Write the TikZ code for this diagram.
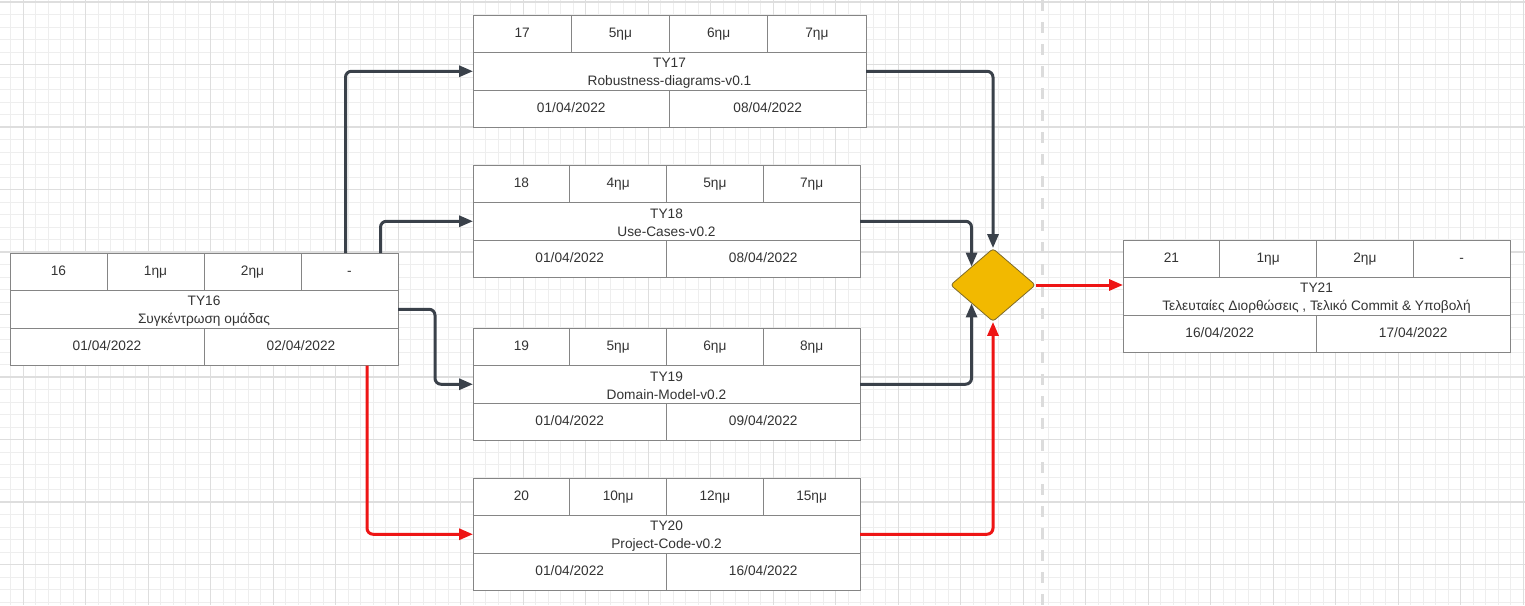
\documentclass[tikz,border=0pt]{standalone}
\usepackage{fontspec}
\setmainfont{Liberation Sans}
\usetikzlibrary{shapes.geometric,arrows.meta,calc}
\definecolor{minorg}{HTML}{EEEEEE}
\definecolor{majorg}{HTML}{DEDEDE}
\definecolor{boxgray}{HTML}{858585}
\definecolor{txt}{HTML}{333333}
\definecolor{darkline}{HTML}{3A414A}
\definecolor{redline}{HTML}{EE1515}
\definecolor{gold}{HTML}{F2B900}
\definecolor{goldedge}{HTML}{7D6A2A}
\definecolor{sepgray}{HTML}{DCDCDC}
\newcommand\fsz{\fontsize{13.7}{17.4}\selectfont}
\tikzset{
  cell/.style={draw=boxgray, line width=1pt, fill=white, minimum height=37.5pt,
    inner sep=0pt, outer sep=0pt, text=txt, font=\fsz, text height=10pt, text depth=3pt},
  midcell/.style={draw=boxgray, line width=1pt, fill=white, minimum height=37.5pt,
    inner sep=0pt, outer sep=0pt, text=txt, font=\fsz, align=center},
  conn/.style={line width=3pt, rounded corners=6pt, -{Triangle[length=14pt,width=11pt]}},
  darr/.style={conn, draw=darkline},
  rarr/.style={conn, draw=redline},
  minorline/.style={draw=minorg, line width=1pt},
  majorline/.style={draw=majorg, line width=1.2pt},
  gate/.style={diamond, draw=goldedge, line width=0.8pt, fill=gold, minimum width=85pt,
    minimum height=73pt, inner sep=0pt, rounded corners=3pt}
}
\newcommand\taskhead[8]{%
  \node[cell,minimum width=#4/4,anchor=north west] (#1-a) at (#2,#3) {#5};
  \node[cell,minimum width=#4/4,anchor=north west] (#1-b) at (#1-a.north east) {#6};
  \node[cell,minimum width=#4/4,anchor=north west] (#1-c) at (#1-b.north east) {#7};
  \node[cell,minimum width=#4/4,anchor=north west] (#1-d) at (#1-c.north east) {#8};
}
\newcommand\tasktail[6]{%
  \node[midcell,minimum width=#2,anchor=north west] (#1) at (#1-a.south west) {\rule{0pt}{13pt}#3\\#4};
  \node[cell,minimum width=#2/2,anchor=north west] (#1-s) at (#1.south west) {#5};
  \node[cell,minimum width=#2/2,anchor=north west] (#1-e) at (#1-s.north east) {#6};
}
\begin{document}
\begin{tikzpicture}[x=1pt,y=-1pt]
\useasboundingbox (0,0) rectangle (1525,605);
\fill[white] (0,0) rectangle (1525,605);
% grid
\foreach \i in {0,...,122} \draw[minorline] ({-1.7+12.5*\i},0) -- ++(0,605);
\foreach \j in {0,...,48} \draw[minorline] (0,{2+12.5*\j}) -- ++(1525,0);
\foreach \i in {0,...,24} \draw[majorline] ({23.3+62.5*\i},0) -- ++(0,605);
\foreach \j in {0,...,9} \draw[majorline] (0,{2+62.5*\j}) -- ++(1525,0);
% separator
\draw[sepgray, line width=3pt, dash pattern=on 11pt off 11pt] (1042.5,0) -- (1042.5,605);
% tasks
\taskhead{t16}{10}{253}{388}{16}{1ημ}{2ημ}{-}
\tasktail{t16}{388}{TY16}{Συγκέντρωση ομάδας}{01/04/2022}{02/04/2022}
\taskhead{t17}{473}{15}{393}{17}{5ημ}{6ημ}{7ημ}
\tasktail{t17}{393}{TY17}{Robustness-diagrams-v0.1}{01/04/2022}{08/04/2022}
\taskhead{t18}{473}{165}{387}{18}{4ημ}{5ημ}{7ημ}
\tasktail{t18}{387}{TY18}{Use-Cases-v0.2}{01/04/2022}{08/04/2022}
\taskhead{t19}{473}{328}{387}{19}{5ημ}{6ημ}{8ημ}
\tasktail{t19}{387}{TY19}{Domain-Model-v0.2}{01/04/2022}{09/04/2022}
\taskhead{t20}{473}{478}{387}{20}{10ημ}{12ημ}{15ημ}
\tasktail{t20}{387}{TY20}{Project-Code-v0.2}{01/04/2022}{16/04/2022}
\taskhead{t21}{1123}{240}{387}{21}{1ημ}{2ημ}{-}
\tasktail{t21}{387}{TY21}{Τελευταίες Διορθώσεις , Τελικό Commit \& Υποβολή}{16/04/2022}{17/04/2022}
% gateway
\node[gate] (d) at (993,285) {};
% connectors
\coordinate (s1) at ([xshift=-4pt]t16-d.north);
\coordinate (s2) at ([xshift=31pt]t16-d.north);
\coordinate (s4) at ([xshift=-31pt]t16-e.south east);
\draw[darr] (s1) |- (t17.west);
\draw[darr] (s2) |- (t18.west);
\draw[darr] (t16.east) -- ++(37,0) |- (t19.west);
\draw[rarr] (s4) |- (t20.west);
\draw[darr] (t17.east) -| (d.north);
\draw[darr] (t18.east) -| (d.north west);
\draw[darr] (t19.east) -| (d.south west);
\draw[rarr] (t20.east) -| (d.south);
\draw[rarr] (d.east) -- (d.east -| t21.west);
\end{tikzpicture}
\end{document}
